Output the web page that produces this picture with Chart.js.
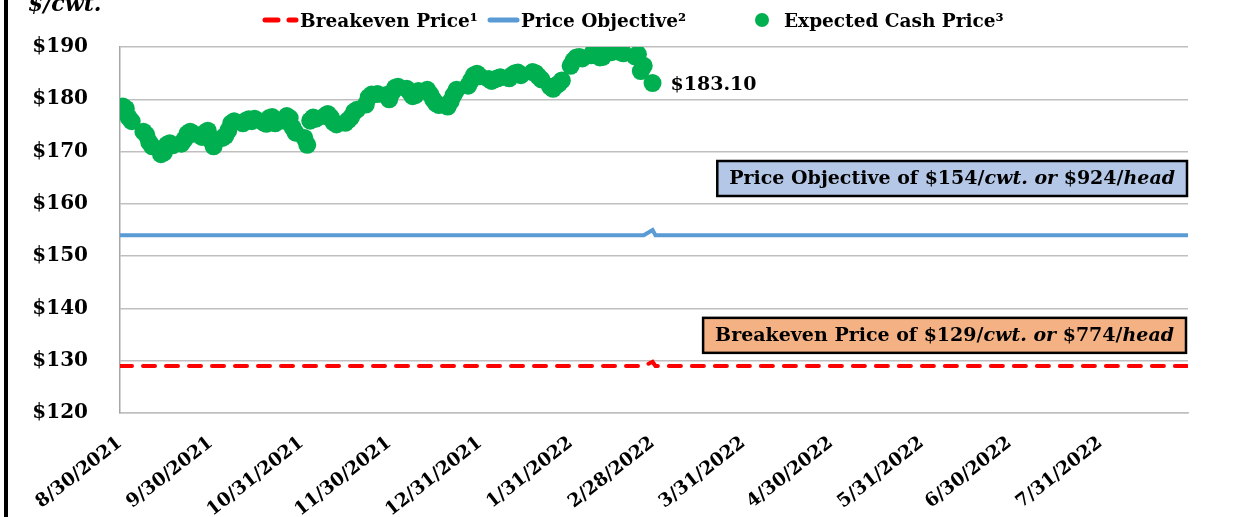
<!DOCTYPE html>
<html>
<head>
<meta charset="utf-8">
<script src="https://cdn.jsdelivr.net/npm/chart.js@4.4.1/dist/chart.umd.min.js"></script>
<style>
  html, body { margin: 0; padding: 0; background: #fff; }
  canvas { display: block; }
</style>
</head>
<body>
<canvas id="myChart" width="1241" height="517"></canvas>
<script>
// ---- data ----
const axisStart = '8/30/2021';
const axisEnd = '8/30/2022';
const tickLabels = ['8/30/2021', '9/30/2021', '10/31/2021', '11/30/2021', '12/31/2021', '1/31/2022',
    '2/28/2022', '3/31/2022', '4/30/2022', '5/31/2022', '6/30/2022', '7/31/2022'];

const cashDates = [
    '8/30/2021', '8/31/2021', '9/1/2021', '9/2/2021', '9/3/2021', '9/7/2021', '9/8/2021', '9/9/2021', '9/10/2021',
    '9/13/2021', '9/14/2021', '9/15/2021', '9/16/2021', '9/17/2021', '9/20/2021', '9/21/2021', '9/22/2021', '9/23/2021',
    '9/24/2021', '9/27/2021', '9/28/2021', '9/29/2021', '9/30/2021', '10/1/2021', '10/4/2021', '10/5/2021', '10/6/2021',
    '10/7/2021', '10/8/2021', '10/11/2021', '10/12/2021', '10/13/2021', '10/14/2021', '10/15/2021', '10/18/2021',
    '10/19/2021', '10/20/2021', '10/21/2021', '10/22/2021', '10/25/2021', '10/26/2021', '10/27/2021', '10/28/2021',
    '10/29/2021', '11/1/2021', '11/2/2021', '11/3/2021', '11/4/2021', '11/5/2021', '11/8/2021', '11/9/2021',
    '11/10/2021', '11/11/2021', '11/12/2021', '11/15/2021', '11/16/2021', '11/17/2021', '11/18/2021', '11/19/2021',
    '11/22/2021', '11/23/2021', '11/24/2021', '11/26/2021', '11/29/2021', '11/30/2021', '12/1/2021', '12/2/2021',
    '12/3/2021', '12/6/2021', '12/7/2021', '12/8/2021', '12/9/2021', '12/10/2021', '12/13/2021', '12/14/2021',
    '12/15/2021', '12/16/2021', '12/17/2021', '12/20/2021', '12/21/2021', '12/22/2021', '12/23/2021', '12/27/2021',
    '12/28/2021', '12/29/2021', '12/30/2021', '12/31/2021', '1/3/2022', '1/4/2022', '1/5/2022', '1/6/2022', '1/7/2022',
    '1/10/2022', '1/11/2022', '1/12/2022', '1/13/2022', '1/14/2022', '1/18/2022', '1/19/2022', '1/20/2022',
    '1/21/2022', '1/24/2022', '1/25/2022', '1/26/2022', '1/27/2022', '1/28/2022', '1/31/2022', '2/1/2022',
    '2/2/2022', '2/3/2022', '2/4/2022', '2/7/2022', '2/8/2022', '2/9/2022', '2/10/2022', '2/11/2022', '2/14/2022',
    '2/15/2022', '2/16/2022', '2/17/2022', '2/18/2022', '2/22/2022', '2/23/2022', '2/24/2022', '2/25/2022', '2/28/2022'
];
const cashPrices = [
    178.0, 178.6, 178.2, 176.5, 175.8, 173.8, 173.2, 171.8, 171.0,
    169.5, 169.8, 171.3, 171.6, 171.2, 171.5, 172.3, 173.4, 173.8,
    173.4, 172.8, 173.6, 174.0, 172.2, 171.0, 172.6, 173.0, 174.0,
    175.4, 175.8, 175.4, 175.9, 176.2, 175.8, 176.3, 175.6,
    175.3, 176.4, 176.6, 175.4, 175.9, 176.8, 176.4, 174.6,
    173.6, 172.6, 171.3, 175.9, 176.5, 176.3, 176.8, 177.2,
    176.6, 175.6, 175.2, 175.5, 176.0, 176.6, 177.6, 178.0,
    179.0, 180.4, 180.9, 181.0, 180.8, 180.0, 181.3, 182.2,
    182.4, 182.0, 181.4, 180.6, 180.8, 181.6, 181.8, 181.0,
    180.0, 179.2, 178.9, 178.6, 179.6, 180.8, 181.8, 182.6,
    183.6, 184.6, 184.9, 184.4, 183.9, 183.5, 183.8, 184.0, 184.2,
    184.0, 184.6, 185.0, 185.1, 184.6, 185.2, 185.0, 184.4,
    183.8, 182.4, 182.0, 182.6, 183.0, 183.6, 186.4, 187.4,
    188.0, 188.1, 187.8, 188.4, 189.3, 188.9, 188.0, 188.1, 189.0,
    189.8, 189.5, 189.0, 188.8, 188.2, 188.6, 185.4, 186.4, 183.1
];

const lineDates = ['8/30/2021', '2/25/2022', '2/28/2022', '3/1/2022', '8/30/2022'];
const breakevenPrices = [129, 129, 129.8, 129, 129];
const objectivePrices = [154, 154, 155, 154, 154];

const objectiveNote = [['Price Objective of $154/', false], ['cwt. or', true], [' $924/', false], ['head', true]];
const breakevenNote = [['Breakeven Price of $129/', false], ['cwt. or', true], [' $774/', false], ['head', true]];

const FONT = '"DejaVu Serif", serif';

function dayIndex(s) {
    const [m, d, y] = s.split('/').map(Number);
    const [m0, d0, y0] = axisStart.split('/').map(Number);
    return Math.round((Date.UTC(y, m - 1, d) - Date.UTC(y0, m0 - 1, d0)) / 86400000);
}

function drawNote(ctx, parts, right, cy, fill) {
    const font = it => (it ? 'italic ' : '') + 'bold 19px ' + FONT;
    let total = 0;
    parts.forEach(([t, it]) => { ctx.font = font(it); total += ctx.measureText(t).width; });
    const padX = 12, h = 35, w = total + padX * 2, left = right - w;
    ctx.fillStyle = fill;
    ctx.fillRect(left, cy - h / 2, w, h);
    ctx.lineWidth = 2.5;
    ctx.strokeStyle = '#000';
    ctx.strokeRect(left, cy - h / 2, w, h);
    ctx.fillStyle = '#000';
    ctx.textBaseline = 'middle';
    ctx.textAlign = 'left';
    let x = left + padX;
    parts.forEach(([t, it]) => {
        ctx.font = font(it);
        ctx.fillText(t, x, cy + 1);
        x += ctx.measureText(t).width;
    });
}

const decor = {
    id: 'decor',
    afterDraw(chart) {
        const { ctx, chartArea, scales: { x, y } } = chart;
        ctx.save();
        // frame edge on the left
        ctx.fillStyle = '#000';
        ctx.fillRect(4, 0, 4, chart.height);

        // unit label
        ctx.font = 'italic bold 22px ' + FONT;
        ctx.textBaseline = 'alphabetic';
        ctx.fillText('$/cwt.', 28, 11);

        // legend
        const ly = 20;
        ctx.lineCap = 'round';
        ctx.lineWidth = 5;
        ctx.strokeStyle = '#FF0000';
        ctx.setLineDash([13, 11]);
        ctx.beginPath(); ctx.moveTo(265, ly); ctx.lineTo(296, ly); ctx.stroke();
        ctx.setLineDash([]);
        ctx.strokeStyle = '#5B9BD5';
        ctx.beginPath(); ctx.moveTo(490, ly); ctx.lineTo(517, ly); ctx.stroke();
        ctx.fillStyle = '#00B050';
        ctx.beginPath(); ctx.arc(762, ly, 7, 0, Math.PI * 2); ctx.fill();
        ctx.fillStyle = '#000';
        ctx.font = 'bold 18.5px ' + FONT;
        ctx.fillText('Breakeven Price\u00B9', 300, 27);
        ctx.fillText('Price Objective\u00B2', 521, 27);
        ctx.fillText('Expected Cash Price\u00B3', 784, 27);

        // last value label
        const last = cashPrices.length - 1;
        const px = x.getPixelForValue(dayIndex(cashDates[last]));
        const py = y.getPixelForValue(cashPrices[last]);
        ctx.font = 'bold 19px ' + FONT;
        ctx.textBaseline = 'middle';
        ctx.fillText('$' + cashPrices[last].toFixed(2), px + 18, py + 2);

        // text boxes
        drawNote(ctx, objectiveNote, chartArea.right - 1, y.getPixelForValue(164.85), '#B4C7E7');
        drawNote(ctx, breakevenNote, chartArea.right - 2, y.getPixelForValue(134.85), '#F4B183');
        ctx.restore();
    }
};

const toPoints = (dates, vals) => dates.map((d, i) => ({ x: dayIndex(d), y: vals[i] }));

new Chart(document.getElementById('myChart'), {
    type: 'line',
    data: {
        datasets: [
            {
                label: 'Expected Cash Price\u00B3',
                data: toPoints(cashDates, cashPrices),
                showLine: false,
                pointRadius: 9,
                pointBackgroundColor: '#00B050',
                pointBorderWidth: 0
            },
            {
                label: 'Price Objective\u00B2',
                data: toPoints(lineDates, objectivePrices),
                borderColor: '#5B9BD5',
                borderWidth: 4,
                pointRadius: 0
            },
            {
                label: 'Breakeven Price\u00B9',
                data: toPoints(lineDates, breakevenPrices),
                borderColor: '#FF0000',
                borderWidth: 4,
                borderDash: [12, 11],
                borderCapStyle: 'round',
                pointRadius: 0
            }
        ]
    },
    options: {
        responsive: false,
        animation: false,
        layout: { padding: { top: 47, right: 53, left: 0, bottom: 0 } },
        plugins: { legend: { display: false }, tooltip: { enabled: false } },
        scales: {
            x: {
                type: 'linear',
                min: 0,
                max: dayIndex(axisEnd),
                afterBuildTicks: s => { s.ticks = tickLabels.map(t => ({ value: dayIndex(t) })); },
                afterFit: s => { s.height = 104; },
                grid: { display: false, drawTicks: false },
                border: { color: '#BFBFBF', width: 1.5 },
                ticks: {
                    autoSkip: false,
                    maxRotation: 38,
                    minRotation: 38,
                    padding: 19,
                    color: '#000',
                    font: { family: FONT, size: 18.5, weight: 'bold' },
                    callback: (v, i) => tickLabels[i]
                }
            },
            y: {
                min: 120,
                max: 190,
                afterFit: s => { s.width = 120; },
                grid: { color: '#BFBFBF', lineWidth: 1.5, drawTicks: false },
                border: { color: '#A6A6A6', width: 1.5 },
                ticks: {
                    stepSize: 10,
                    padding: 32,
                    color: '#000',
                    font: { family: FONT, size: 20, weight: 'bold' },
                    callback: v => '$' + v
                }
            }
        }
    },
    plugins: [decor]
});
</script>
</body>
</html>
